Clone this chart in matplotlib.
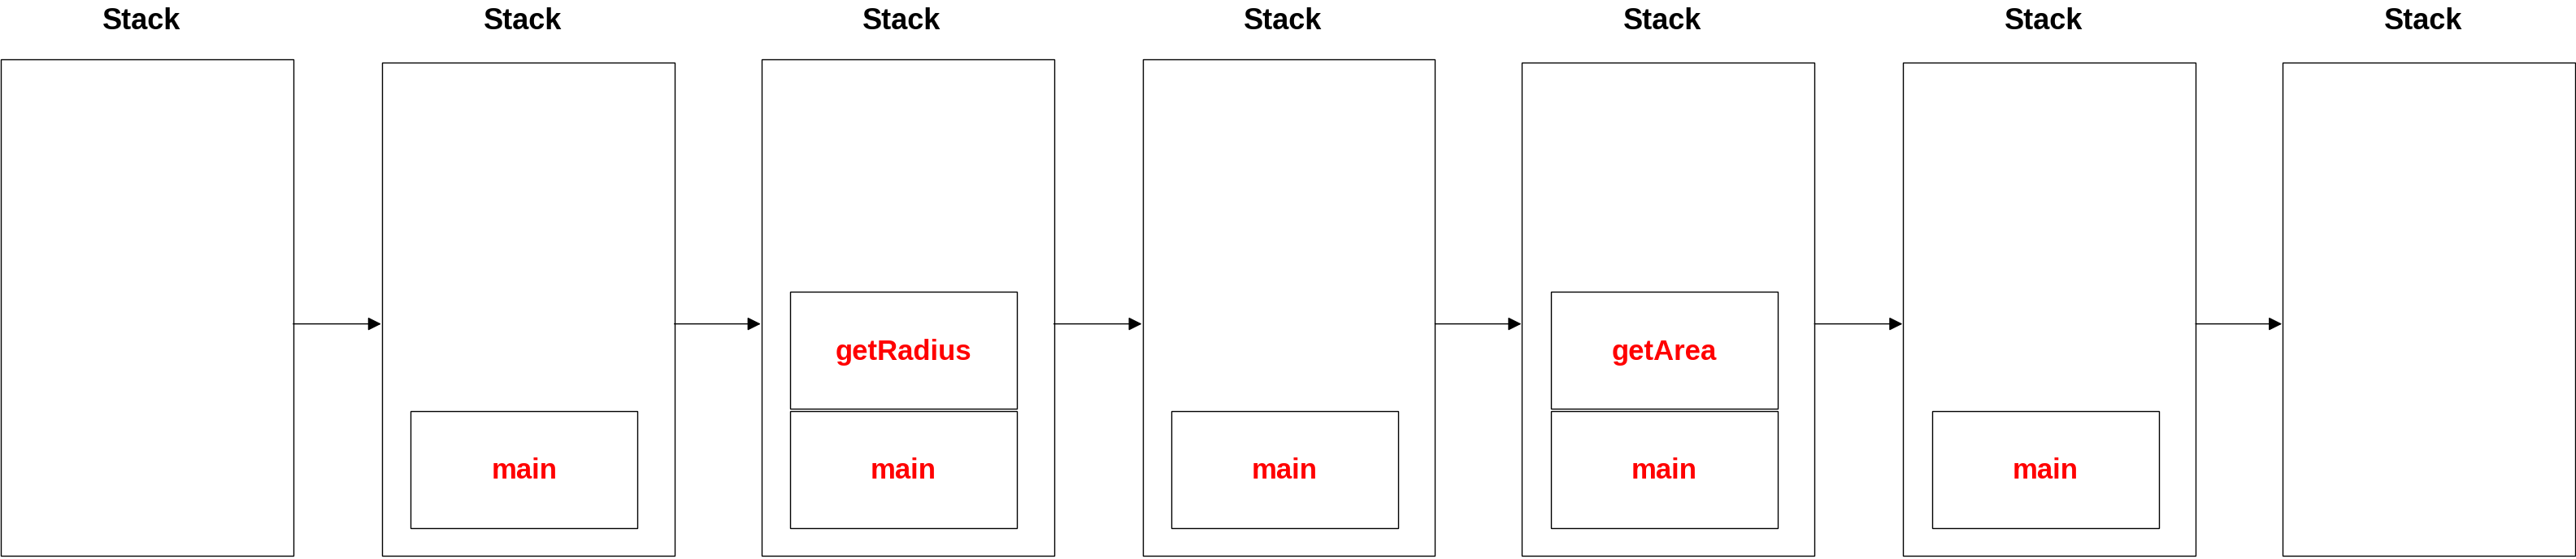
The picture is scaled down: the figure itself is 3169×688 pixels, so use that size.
import matplotlib.pyplot as plt
from matplotlib.patches import Rectangle

# stack contents at each step, bottom to top
stacks = [[], ["main"], ["main", "getRadius"], ["main"], ["main", "getArea"], ["main"], []]
title = "Stack"

box_x = [0, 232, 463, 695, 926, 1158, 1389]
box_top = [36, 38, 36, 36, 38, 38, 38]
box_w, box_bottom = 178, 338
frame_h = 71

fig = plt.figure(figsize=(31.69, 6.88), dpi=100)
ax = fig.add_axes([0, 0, 1, 1])
ax.set_xlim(0, 1568)
ax.set_ylim(340, 0)
ax.axis("off")

for i, frames in enumerate(stacks):
    x0, top = box_x[i], box_top[i]
    ax.add_patch(Rectangle((x0 + 0.5, top), box_w, box_bottom - top,
                           fill=False, lw=1, ec="black"))
    ax.text(x0 + box_w / 2 - 3, 13, title, ha="center", va="center",
            fontsize=26, fontweight="bold", family="Liberation Sans")
    y = box_bottom - 17
    for name in frames:
        ax.add_patch(Rectangle((x0 + 18, y - frame_h), box_w - 40, frame_h,
                               fill=False, lw=1, ec="black"))
        ax.text(x0 + 18 + (box_w - 40) / 2, y - frame_h / 2 + 1, name,
                ha="center", va="center", color="red", fontsize=25,
                fontweight="bold", family="Liberation Sans")
        y -= frame_h + 1.5
    if i < len(stacks) - 1:
        ax.annotate("", xy=(box_x[i + 1], 197), xytext=(x0 + box_w + 0.5, 197),
                    arrowprops=dict(arrowstyle="-|>", color="black", lw=1,
                                    mutation_scale=25, shrinkA=0, shrinkB=0))

fig.savefig("out.png", dpi=100)
